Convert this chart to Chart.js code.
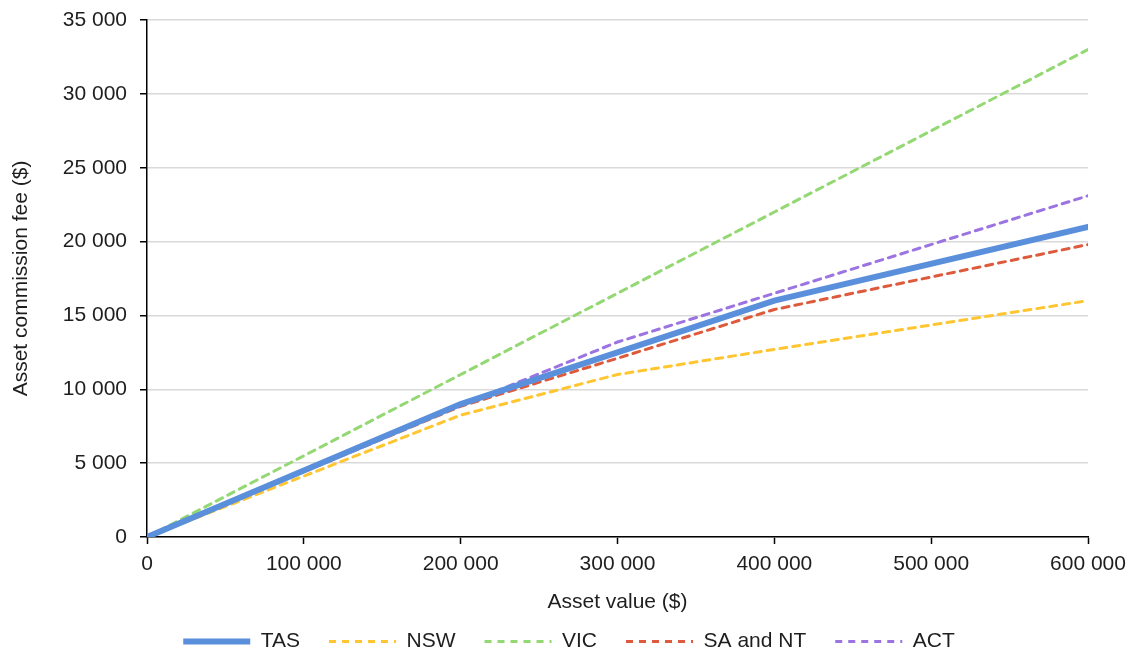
<!DOCTYPE html>
<html>
<head>
<meta charset="utf-8">
<script src="https://cdn.jsdelivr.net/npm/chart.js@4/dist/chart.umd.min.js"></script>
<style>
  html, body { margin: 0; padding: 0; background: #fff; }
  #wrap { width: 1131px; height: 654px; }
</style>
</head>
<body>
<div id="wrap"><canvas id="fees"></canvas></div>
<script>
'use strict';

// Asset values at the scale's break points ($)
const assetValues = [0, 200000, 300000, 400000, 600000];

// Commission fee ($) for each state
const tasFees = [0, 9000, 12500, 16000, 21000];
const nswFees = [0, 8250, 11000, 12700, 16000];
const vicFees = [0, 11000, 16500, 22000, 33000];
const saNtFees = [0, 8850, 12100, 15400, 19800];
const actFees = [0, 8900, 13200, 16500, 23100];

const seriesNames = ['TAS', 'NSW', 'VIC', 'SA and NT', 'ACT'];

const FONT = 'Liberation Sans, Arial, sans-serif';
const TEXT = '#1e1e1e';
const SIZE = 21;

// space as thousands separator, eg 35 000
function spaced(v) {
    return String(v).replace(/\B(?=(\d{3})+(?!\d))/g, ' ');
}

function points(fees) {
    return assetValues.map((x, i) => ({ x: x, y: fees[i] }));
}

function dashed(label, fees, color) {
    return {
        label: label,
        data: points(fees),
        borderColor: color,
        backgroundColor: color,
        borderWidth: 3,
        borderDash: [7, 6],
        borderCapStyle: 'round',
        pointRadius: 0,
        tension: 0
    };
}

const datasets = [
    {
        label: seriesNames[0],
        data: points(tasFees),
        borderColor: '#5a8fdb',
        backgroundColor: '#5a8fdb',
        borderWidth: 6,
        borderCapStyle: 'round',
        pointRadius: 0,
        tension: 0
    },
    dashed(seriesNames[1], nswFees, '#ffc632'),
    dashed(seriesNames[2], vicFees, '#94d873'),
    dashed(seriesNames[3], saNtFees, '#dd5a3c'),
    dashed(seriesNames[4], actFees, '#9b74e2')
];

// legend sits a little right of the canvas centre in the original
const legendShift = {
    id: 'legendShift',
    afterLayout(chart) {
        chart.legend.left += 50;
    }
};

const config = {
    type: 'line',
    data: { datasets: datasets },
    plugins: [legendShift],
    options: {
        responsive: true,
        maintainAspectRatio: false,
        animation: false,
        layout: {
            padding: { left: 0, right: 43, top: 20, bottom: -8 }
        },
        plugins: {
            legend: {
                position: 'bottom',
                onClick: null,
                labels: {
                    usePointStyle: true,
                    pointStyleWidth: 67,
                    padding: 29,
                    color: TEXT,
                    font: { family: FONT, size: SIZE },
                    generateLabels: (chart) => chart.data.datasets.map((ds, i) => ({
                        text: ds.label,
                        strokeStyle: ds.borderColor,
                        fillStyle: ds.borderColor,
                        lineWidth: ds.borderWidth,
                        lineDash: ds.borderDash || [],
                        lineCap: 'butt',
                        pointStyle: 'line',
                        fontColor: TEXT,
                        hidden: false,
                        datasetIndex: i
                    }))
                }
            },
            tooltip: { enabled: false }
        },
        scales: {
            x: {
                type: 'linear',
                min: 0,
                max: 600000,
                border: { color: '#000', width: 1.5 },
                grid: {
                    drawOnChartArea: false,
                    tickLength: 7,
                    tickColor: '#000',
                    tickWidth: 1.5
                },
                ticks: {
                    stepSize: 100000,
                    padding: 8,
                    color: TEXT,
                    font: { family: FONT, size: SIZE },
                    maxRotation: 0,
                    callback: (v) => spaced(v)
                },
                title: {
                    display: true,
                    text: 'Asset value ($)',
                    color: TEXT,
                    font: { family: FONT, size: SIZE },
                    padding: { top: 0, bottom: -13 }
                },
                afterFit: (scale) => {
                    scale.height = 65;
                    scale.paddingLeft = 0;
                    scale.paddingRight = 0;
                }
            },
            y: {
                min: 0,
                max: 35000,
                border: { color: '#000', width: 1.5 },
                grid: {
                    color: '#d9d9d9',
                    lineWidth: 1.5,
                    tickLength: 7,
                    tickColor: '#000',
                    tickWidth: 1.5
                },
                ticks: {
                    stepSize: 5000,
                    padding: 13,
                    color: TEXT,
                    font: { family: FONT, size: SIZE },
                    callback: (v) => spaced(v)
                },
                title: {
                    display: true,
                    text: 'Asset commission fee ($)',
                    color: TEXT,
                    font: { family: FONT, size: SIZE },
                    padding: { top: 9, bottom: 0 }
                },
                afterFit: (scale) => {
                    scale.width = 147;
                    scale.paddingTop = 0;
                    scale.paddingBottom = 0;
                }
            }
        }
    }
};

new Chart(document.getElementById('fees'), config);
</script>
</body>
</html>
